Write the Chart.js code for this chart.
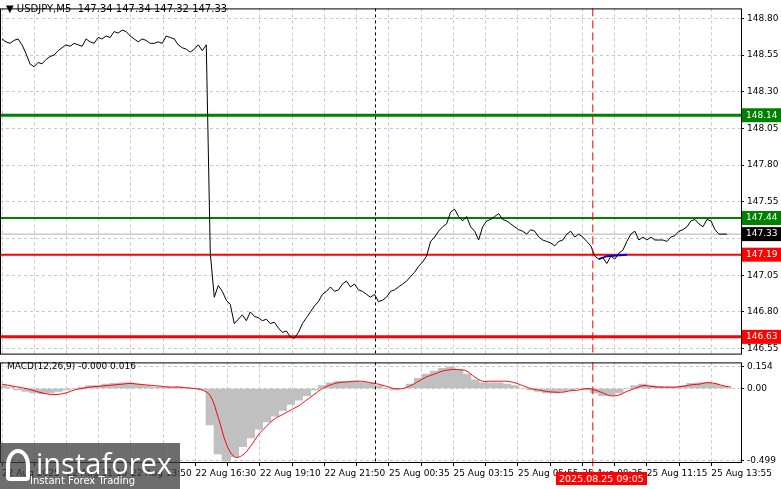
<!DOCTYPE html>
<html>
<head>
<meta charset="utf-8">
<script src="https://cdn.jsdelivr.net/npm/chart.js@4"></script>
<style>
  body { margin: 0; background: #fff; width: 781px; height: 489px; overflow: hidden; position: relative; font-family: "DejaVu Sans", sans-serif; }
  #priceWrap { position: absolute; left: 0; top: 0; width: 781px; height: 362px; }
  #macdWrap { position: absolute; left: 0; top: 354px; width: 781px; height: 135px; }
  .title { position: absolute; left: 6px; top: 3px; font-size: 10px; color: #000; }
  .macdTitle { position: absolute; left: 7px; top: 361px; font-size: 9px; color: #000; }
  .logo { position: absolute; left: 0; top: 443px; width: 180px; height: 46px; background: rgba(60,60,60,0.75); color: #fff; }
  .logo .big { position: absolute; left: 36px; top: 0px; font-size: 29px; font-family: "Open Sans", sans-serif; }
  .logo .small { position: absolute; left: 30px; top: 32px; font-size: 10px; }
  .logo .icon { position: absolute; left: 6px; top: 6px; width: 24px; height: 32px; border: 4px solid #fff; border-radius: 50% 50% 4px 4px; box-sizing: border-box; }
  .dateTag { position: absolute; left: 556px; top: 472px; background: #f00; color: #fff; font-size: 9.5px; padding: 1px 3px; }
</style>
</head>
<body>
<div id="priceWrap"><canvas id="price"></canvas></div>
<div id="macdWrap"><canvas id="macd"></canvas></div>
<div class="title">▼ USDJPY,M5&nbsp; 147.34 147.34 147.32 147.33</div>
<div class="macdTitle">MACD(12,26,9) -0.000 0.016</div>
<div class="logo"><div class="icon"></div><div class="big">instaforex</div><div class="small">Instant Forex Trading</div></div>
<div class="dateTag">2025.08.25 09:05</div>
<script>
// price closes, one value every 2 bars (M5)
const prices = [
  148.66,148.64,148.63,148.65,148.66,148.62,148.56,148.49,148.47,148.50,148.49,148.52,148.54,
  148.55,148.58,148.60,148.62,148.61,148.63,148.62,148.61,148.66,148.64,148.63,148.67,148.66,
  148.68,148.67,148.71,148.70,148.72,148.71,148.68,148.66,148.64,148.66,148.65,148.63,148.63,
  148.64,148.63,148.68,148.67,148.66,148.62,148.60,148.59,148.57,148.59,148.62,148.58,148.62,
  147.20,146.90,146.98,146.94,146.88,146.85,146.72,146.75,146.78,146.74,146.80,146.77,146.76,
  146.74,146.75,146.72,146.73,146.69,146.66,146.67,146.63,146.62,146.66,146.72,146.76,146.80,
  146.84,146.87,146.92,146.94,146.97,146.94,146.95,146.99,147.01,146.97,146.99,146.95,146.94,
  146.92,146.90,146.92,146.87,146.88,146.90,146.94,146.95,146.97,146.99,147.01,147.04,147.07,
  147.11,147.14,147.18,147.28,147.31,147.35,147.38,147.40,147.48,147.50,147.45,147.42,147.45,
  147.38,147.35,147.29,147.38,147.42,147.43,147.45,147.47,147.43,147.42,147.40,147.38,147.36,
  147.35,147.33,147.36,147.35,147.31,147.29,147.28,147.27,147.25,147.28,147.29,147.33,147.35,
  147.31,147.33,147.31,147.28,147.25,147.18,147.16,147.17,147.13,147.18,147.16,147.20,147.22,
  147.28,147.33,147.35,147.29,147.31,147.29,147.31,147.29,147.29,147.29,147.28,147.31,147.32,
  147.35,147.36,147.38,147.42,147.43,147.40,147.38,147.43,147.42,147.36,147.33,147.33,147.33
];
// MACD histogram and signal, one value every 4 bars
const macdHist = [
  0.02,0.01,-0.01,-0.02,-0.03,-0.035,-0.03,-0.02,-0.01,0.0,0.01,0.02,0.02,0.03,0.035,0.04,0.04,0.03,
  0.02,0.01,0.01,0.01,0.01,0.005,0.0,-0.01,-0.25,-0.45,-0.50,-0.47,-0.40,-0.34,-0.28,-0.23,-0.19,-0.15,
  -0.11,-0.08,-0.05,-0.01,0.02,0.04,0.05,0.05,0.05,0.045,0.04,0.02,0.0,-0.01,0.0,0.03,0.07,0.10,
  0.12,0.14,0.15,0.13,0.10,0.06,0.04,0.04,0.04,0.03,0.02,0.0,-0.01,-0.02,-0.03,-0.03,-0.02,-0.01,
  0.0,-0.01,-0.03,-0.05,-0.045,-0.03,0.0,0.02,0.03,0.02,0.015,0.01,0.01,0.02,0.035,0.04,0.04,0.03,0.015,0.0
];
const macdSignal = [
  0.03,0.02,0.01,0.0,-0.015,-0.03,-0.04,-0.04,-0.03,-0.01,0.0,0.01,0.015,0.02,0.025,0.03,0.035,0.03,
  0.025,0.02,0.015,0.01,0.01,0.005,0.0,-0.01,-0.05,-0.20,-0.38,-0.47,-0.46,-0.40,-0.32,-0.26,-0.21,-0.18,
  -0.15,-0.12,-0.08,-0.04,0.0,0.025,0.04,0.045,0.05,0.05,0.04,0.03,0.015,0.0,0.0,0.02,0.05,0.08,
  0.10,0.12,0.13,0.13,0.12,0.08,0.05,0.05,0.05,0.05,0.04,0.02,0.0,-0.01,-0.02,-0.025,-0.025,-0.015,
  -0.01,0.0,-0.01,-0.03,-0.05,-0.045,-0.02,0.0,0.02,0.015,0.01,0.01,0.01,0.015,0.025,0.03,0.04,0.035,0.02,0.01
];
const timeLabels = ["22 Aug 2025","22 Aug 11:10","22 Aug 13:50","22 Aug 16:30","22 Aug 19:10","22 Aug 21:50",
  "25 Aug 00:35","25 Aug 03:15","25 Aug 05:55","25 Aug 08:35","25 Aug 11:15","25 Aug 13:55"];
const priceTicks = [148.80,148.55,148.30,148.05,147.80,147.55,147.30,147.05,146.80,146.55];
const macdTicks = [0.154,0.00,-0.499];
const greenLevels = [148.14,147.44];
const redLevels = [147.19,146.63];
const bidPrice = 147.33;
const entryLine = [[299,147.16],[303,147.18],[313,147.19]];
const separatorBar = 187.5;
const markerBar = 296;

const BARS = 370, GRID_STEP = 16.1;
const gridVals = [];
for (let v = 1; v <= BARS; v += GRID_STEP) gridVals.push(v);

const priceCtx = document.getElementById("price");
const macdCtx = document.getElementById("macd");

const xBase = (showLabels) => ({
  type: "linear", min: 0, max: BARS, offset: false,
  afterBuildTicks: (s) => { s.ticks = gridVals.map((v) => ({ value: v })); },
  afterFit: (s) => { s.height = showLabels ? 27 : 0; },
  grid: { color: "#c8c8c8", drawTicks: showLabels, tickLength: 4, tickColor: "#000", offset: false },
  border: { display: false, dash: [3, 3] },
  ticks: {
    display: showLabels, autoSkip: false, maxRotation: 0, align: "start", color: "#000",
    font: { family: "DejaVu Sans", size: 9 }, padding: 2,
    callback: (v, i) => (i % 2 === 0 ? timeLabels[i / 2] || "" : ""),
  },
});

// dashed verticals, panel frame and axis boxes
const overlay = (isPrice) => ({
  id: "overlay" + isPrice,
  afterDatasetsDraw(chart) {
    const { ctx, chartArea: a, scales } = chart;
    ctx.save();
    ctx.lineWidth = 1;
    ctx.strokeStyle = "#000"; ctx.setLineDash([3, 3]);
    let x = scales.x.getPixelForValue(separatorBar);
    ctx.beginPath(); ctx.moveTo(x, a.top); ctx.lineTo(x, a.bottom); ctx.stroke();
    ctx.strokeStyle = "#e00"; ctx.setLineDash([8, 4]);
    x = scales.x.getPixelForValue(markerBar);
    ctx.beginPath(); ctx.moveTo(x, a.top); ctx.lineTo(x, a.bottom + (isPrice ? 0 : 20)); ctx.stroke();
    ctx.setLineDash([]);
    ctx.strokeStyle = "#000";
    ctx.strokeRect(a.left + 0.5, a.top + 0.5, a.right - a.left, a.bottom - a.top);
    if (isPrice) {
      const tag = (val, bg) => {
        const y = scales.y.getPixelForValue(val);
        ctx.fillStyle = bg; ctx.fillRect(a.right + 1, y - 7, 40, 14);
        ctx.fillStyle = "#fff"; ctx.font = "9px DejaVu Sans"; ctx.textBaseline = "middle";
        ctx.fillText(val.toFixed(2), a.right + 5, y);
      };
      greenLevels.forEach((v) => tag(v, "#008000"));
      tag(bidPrice, "#000");
      redLevels.forEach((v) => tag(v, "#ff0000"));
    }
    ctx.restore();
  },
});

const yRight = (min, max, ticks) => ({
  position: "right", min, max,
  afterBuildTicks: (s) => { s.ticks = ticks.map((v) => ({ value: v })); },
  afterFit: (s) => { s.width = 40; },
  grid: { color: "#c8c8c8", drawTicks: true, tickLength: 3, tickColor: "#000" },
  border: { display: false, dash: [3, 3] },
  ticks: { color: "#000", font: { family: "DejaVu Sans", size: 9 }, padding: 3,
    callback: (v) => (Math.abs(v) < 1e-9 ? "0.00" : v.toFixed(ticks === macdTicks ? 3 : 2)) },
});

const hLine = (val, color, width) => ({
  type: "line", data: [{ x: 0, y: val }, { x: BARS, y: val }],
  borderColor: color, borderWidth: width, pointRadius: 0,
});

new Chart(priceCtx, {
  type: "line",
  data: {
    datasets: [
      { data: prices.map((p, i) => ({ x: 1 + 2 * i, y: p })), borderColor: "#000", borderWidth: 1, pointRadius: 0, order: 0 },
      { data: entryLine.map(([x, y]) => ({ x, y })), borderColor: "#0000ff", borderWidth: 2, pointRadius: 0, order: 0 },
      hLine(greenLevels[0], "#008000", 3),
      hLine(greenLevels[1], "#008000", 2),
      hLine(bidPrice, "#b0b0b0", 1),
      hLine(redLevels[0], "#ff0000", 2),
      hLine(redLevels[1], "#ff0000", 3),
    ],
  },
  options: {
    responsive: true, maintainAspectRatio: false, animation: false,
    layout: { padding: { top: 1, left: 0, right: 0, bottom: 0 } },
    plugins: { legend: { display: false }, tooltip: { enabled: false } },
    scales: { x: xBase(false), y: yRight(146.516, 148.868, priceTicks) },
  },
  plugins: [overlay(true)],
});

new Chart(macdCtx, {
  data: {
    datasets: [
      { type: "line", data: macdSignal.map((v, i) => ({ x: 1 + 4 * i, y: v })), borderColor: "#ff0000", borderWidth: 1, pointRadius: 0, tension: 0.4, order: 0 },
      { type: "bar", data: macdHist.map((v, i) => ({ x: 1 + 4 * i, y: v })), backgroundColor: "#c0c0c0", barThickness: 8.6, order: 1 },
    ],
  },
  options: {
    responsive: true, maintainAspectRatio: false, animation: false,
    layout: { padding: { top: 2, left: 0, right: 0, bottom: 0 } },
    plugins: { legend: { display: false }, tooltip: { enabled: false } },
    scales: { x: xBase(true), y: yRight(-0.506, 0.18, macdTicks) },
  },
  plugins: [overlay(false)],
});
</script>
</body>
</html>
